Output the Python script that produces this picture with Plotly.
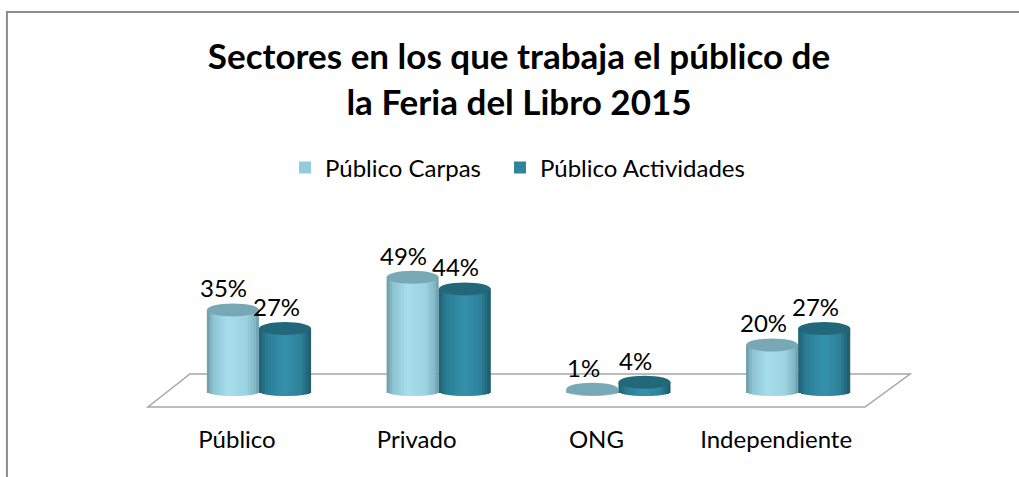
import plotly.graph_objects as go

categories = ["Público", "Privado", "ONG", "Independiente"]
series_names = ["Público Carpas", "Público Actividades"]
carpas = [35, 49, 1, 20]
actividades = [27, 44, 4, 27]
title_text = "Sectores en los que trabaja el público de<br>la Feria del Libro 2015"

FONT = "Lato"
legend_colors = ["#93CDDD", "#31849B"]
top_colors = ["#78A8B5", "#22687A"]
gradients = [
    [(0.0, "#6C97A4"), (0.12, "#8DC3D2"), (0.40, "#A6DEED"), (0.75, "#9BD3E2"), (0.92, "#83B8C6"), (1.0, "#6E9AA6")],
    [(0.0, "#1E6072"), (0.15, "#2A7D94"), (0.50, "#3592AB"), (0.80, "#2D8199"), (1.0, "#1D5A69")],
]

W, H = 1019, 477
ML, MR, MT, MB = 0, 0, 200, 57
XR = [-1.441, 4.229]
YR = [-12.23, 82.19]
half_w = 0.145
ell_top = 2.8
ell_bot = 1.93
N_STRIPS = 18
legend_x = [285, 500]
FLOOR_BACK, FLOOR_FRONT = 7.51, -6.65


def hex2rgb(h):
    h = h.lstrip("#")
    return tuple(int(h[i:i + 2], 16) for i in (0, 2, 4))


def grad_color(stops, u):
    for (u0, c0), (u1, c1) in zip(stops[:-1], stops[1:]):
        if u0 <= u <= u1:
            t = (u - u0) / (u1 - u0)
            a, b = hex2rgb(c0), hex2rgb(c1)
            r = [round(a[j] + (b[j] - a[j]) * t) for j in range(3)]
            return "rgb(%d,%d,%d)" % tuple(r)
    return stops[-1][1]


idx = list(range(len(categories)))
series = [carpas, actividades]
offsets = [-half_w, half_w]
fig = go.Figure()

dw = 2 * half_w / N_STRIPS
ext = 0.008
for s, (name, vals) in enumerate(zip(series_names, series)):
    for k in range(N_STRIPS):
        u = (k + 0.5) / N_STRIPS
        base_k = -ell_bot * (1 - (2 * u - 1) ** 2) ** 0.5
        wk = dw + (ext if k < N_STRIPS - 1 else 0)
        fig.add_trace(go.Bar(
            x=idx, y=[v - base_k for v in vals], base=[base_k] * len(vals),
            offset=offsets[s] - half_w + k * dw, width=wk,
            marker=dict(color=grad_color(gradients[s], u), line=dict(width=0)),
            showlegend=False, hoverinfo="skip", legendgroup=name,
        ))
legend_ids = ["legend", "legend2"]
for s, name in enumerate(series_names):
    fig.add_trace(go.Bar(x=[None], y=[None], name=name, legendgroup=name,
                         legend=legend_ids[s],
                         marker=dict(color=legend_colors[s], line=dict(width=0))))

shapes = []
# floor
shapes.append(dict(type="path", xref="x", yref="y", layer="below",
                   path=f"M -0.618,{FLOOR_FRONT} L -0.384,{FLOOR_BACK} L 3.623,{FLOOR_BACK} L 3.372,{FLOOR_FRONT} Z",
                   line=dict(color="#A6A6A6", width=1.5), fillcolor="white"))
for s, vals in enumerate(series):
    for i, v in zip(idx, vals):
        cx = i + offsets[s]
        shapes.append(dict(type="circle", xref="x", yref="y", layer="above",
                           x0=cx - half_w, x1=cx + half_w, y0=v - ell_top, y1=v + ell_top,
                           fillcolor=top_colors[s], line=dict(width=0)))
# frame
shapes.append(dict(type="path", xref="paper", yref="paper",
                   path="M 0.0068,-0.3 L 0.0068,1.8545 L 1.01,1.8545",
                   line=dict(color="#8C8C8C", width=2)))

annotations = []
for s, vals in enumerate(series):
    for i, v in zip(idx, vals):
        annotations.append(dict(x=i + offsets[s], y=v, xref="x", yref="y",
                                text=f"{v}%", showarrow=False, xshift=-9, yshift=22,
                                font=dict(family=FONT, size=24, color="black")))

legend_common = dict(orientation="h", xanchor="left", xref="container",
                     y=1 - 168 / H, yanchor="middle", yref="container",
                     font=dict(family=FONT, size=24, color="black"))

fig.update_layout(
    width=W, height=H,
    margin=dict(l=ML, r=MR, t=MT, b=MB),
    paper_bgcolor="white", plot_bgcolor="white",
    barmode="overlay",
    title=dict(text=title_text, x=519 / W, xanchor="center", xref="container",
               y=1 - 69 / H, yanchor="middle", yref="container",
               font=dict(family=FONT, size=35, color="black", weight="bold")),
    legend=dict(x=legend_x[0] / W, **legend_common),
    legend2=dict(x=legend_x[1] / W, **legend_common),
    xaxis=dict(range=XR, tickvals=idx, ticktext=categories, showgrid=False,
               zeroline=False, showline=False, ticks="", ticklabelshift=-22,
               ticklabelstandoff=3,
               tickfont=dict(family=FONT, size=24, color="black")),
    yaxis=dict(range=YR, visible=False, showgrid=False, zeroline=False),
    shapes=shapes, annotations=annotations,
    showlegend=True,
)

fig.write_html("out.html", config={"displayModeBar": False},
               post_script="document.body.style.margin='0';")
